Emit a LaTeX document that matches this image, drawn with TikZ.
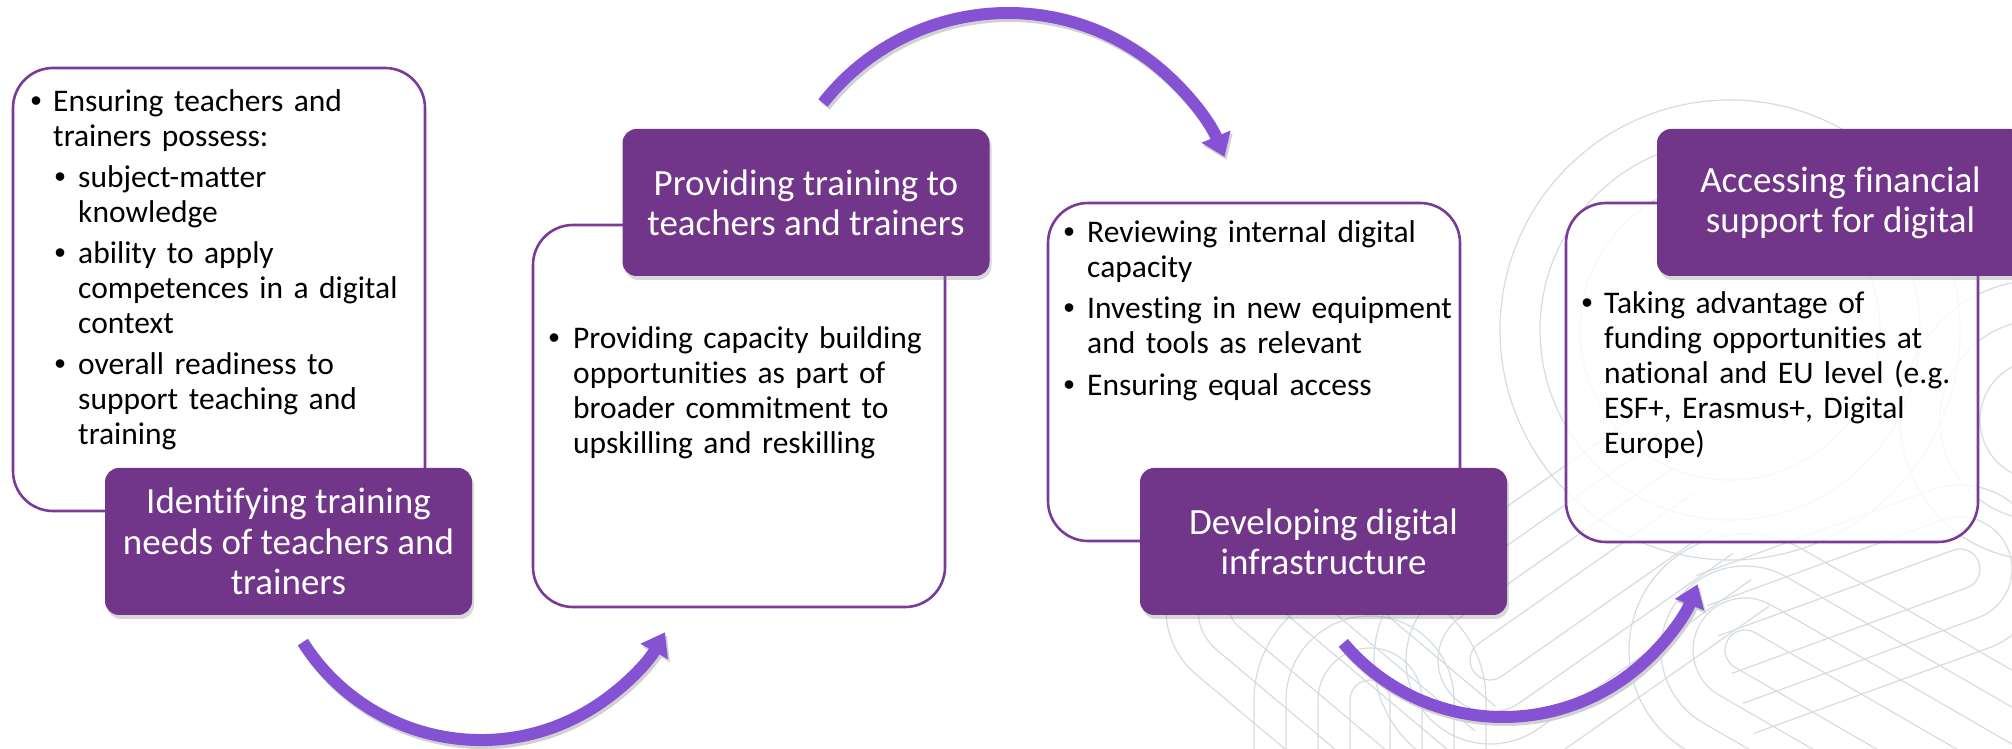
\documentclass[tikz,border=0pt]{standalone}
\usepackage{fontspec}
\setmainfont{Carlito}[Ligatures=NoCommon]
\newfontfamily\bulfont{Liberation Sans}
\usetikzlibrary{arrows.meta,shadows}
\definecolor{hdr}{HTML}{713589}
\definecolor{edgec}{HTML}{7A3B98}
\definecolor{arrc}{HTML}{8652D4}
\definecolor{patc}{HTML}{D5DCE2}
\newlength{\bw}
\newcommand{\bitem}[1]{\noindent\hangindent=\bw\hangafter=1\makebox[\bw][l]{\strut{\bulfont\textbullet}}#1\par}
\newcommand{\sitem}[1]{\noindent\hangindent=47.5pt\hangafter=1\hspace*{24pt}\makebox[23.5pt][l]{\strut{\bulfont\textbullet}}#1\par}
\newcommand{\hpin}[5]{%
\begin{scope}[shift={(#1,#2)},rotate=#3]
\foreach \rr in {#5} {\draw[pat] (#4,\rr) -- (0,\rr) arc[start angle=90,end angle=270,radius=\rr] -- (#4,-\rr);}
\end{scope}}
\tikzset{
  pat/.style={draw=patc, line width=1.2pt},
  card/.style={draw=edgec, line width=2.6pt, fill=white, fill opacity=0.8, rounded corners=40pt, minimum width=412pt, inner sep=0pt},
  hdrbox/.style={fill=hdr, rounded corners=14pt, minimum width=367pt, minimum height=147pt, inner sep=0pt, text=white, align=center,
    drop shadow={shadow xshift=2pt, shadow yshift=-4pt, opacity=0.3}},
  hfont/.style={font=\fontsize{37}{40}\selectfont},
  body/.style={anchor=north west, inner sep=0pt, text width=420pt, font=\fontsize{31.5}{35}\selectfont},
  arr/.style={draw=arrc, line width=12pt, -{Triangle[width=30pt,length=22pt]}},
  arrsh/.style={draw=black!18, line width=12pt, -{Triangle[width=30pt,length=22pt]}},
}
\begin{document}
\begin{tikzpicture}[x=1pt,y=1pt]
\clip (0,0) rectangle (2012,749);
\fill[white] (0,0) rectangle (2012,749);
% background pattern
\begin{scope}
\clip (1060,0) -- (1230,689) -- (2012,689) -- (2012,0) -- cycle;
\foreach \rr in {150,190,230} {\draw[pat] (1730,419) circle[radius=\rr];}
\foreach \rr in {60,100,140} {\draw[pat] (2040,329) circle[radius=\rr];}
\hpin{1490}{89}{35}{260}{20,52,84,116}
\hpin{1370}{49}{-90}{200}{20,52,84,116}
\hpin{1745}{99}{-30}{300}{20,52,84,116}
\hpin{1250}{139}{-40}{250}{20,52,84}
\hpin{1960}{180}{200}{250}{20,52,84}
\end{scope}
% cards
\node[card, minimum height=443pt] (b1) at (219,459.5) {};
\node[card, minimum height=382pt] (b2) at (739,333) {};
\node[card, minimum height=338pt] (b3) at (1254,377) {};
\node[card, minimum height=339pt] (b4) at (1772,376.5) {};
% headers
\node[hdrbox, font=\fontsize{37}{40.5}\selectfont] (h1) at (288.5,207.5) {Identifying training\\needs of teachers and\\trainers};
\node[hdrbox, hfont] (h2) at (806,546.5) {Providing training to\\teachers and trainers};
\node[hdrbox, hfont] (h3) at (1323.5,207.5) {Developing digital\\infrastructure};
\node[hdrbox, hfont] (h4) at (1840.5,546.5) {Accessing financial\\support for digital};
% body texts
\node[body] (t1) at (30.5,662.5) {\setlength{\bw}{22.5pt}\setlength{\parskip}{6pt}\raggedright%
\bitem{Ensuring teachers and\newline trainers possess:}%
\sitem{subject-matter\newline knowledge}%
\sitem{ability to apply\newline competences in a digital\newline context}%
\sitem{overall readiness to\newline support teaching and\newline training}};
\node[body] (t2) at (548.5,425.5) {\setlength{\bw}{24.5pt}\setlength{\parskip}{5pt}\raggedright%
\bitem{Providing capacity building\newline opportunities as part of\newline broader commitment to\newline upskilling and reskilling}};
\node[body] (t3) at (1063.5,531.5) {\setlength{\bw}{23.5pt}\setlength{\parskip}{6.5pt}\raggedright%
\bitem{Reviewing internal digital\newline capacity}%
\bitem{Investing in new equipment\newline and tools as relevant}%
\bitem{Ensuring equal access}};
\node[body] (t4) at (1581.5,460.5) {\setlength{\bw}{22.5pt}\setlength{\parskip}{5pt}\raggedright%
\bitem{Taking advantage of\newline funding opportunities at\newline national and EU level (e.g.\newline ESF+, Erasmus+, Digital\newline Europe)}};
% arrows
\coordinate (a1s) at (302.8,106.9);
\coordinate (a2s) at (823,646);
\coordinate (a3s) at (1343.3,106.1);
\draw[arrsh] ([shift={(2,-3)}]a1s) arc[start angle=212.4,end angle=330.7,radius=211];
\draw[arrsh] ([shift={(2,-3)}]a2s) arc[start angle=141.9,end angle=22.8,radius=235];
\draw[arrsh] ([shift={(2,-3)}]a3s) arc[start angle=220.2,end angle=338.6,radius=209];
\draw[arr] (a1s) arc[start angle=212.4,end angle=330.7,radius=211];
\draw[arr] (a2s) arc[start angle=141.9,end angle=22.8,radius=235];
\draw[arr] (a3s) arc[start angle=220.2,end angle=338.6,radius=209];
\end{tikzpicture}
\end{document}
